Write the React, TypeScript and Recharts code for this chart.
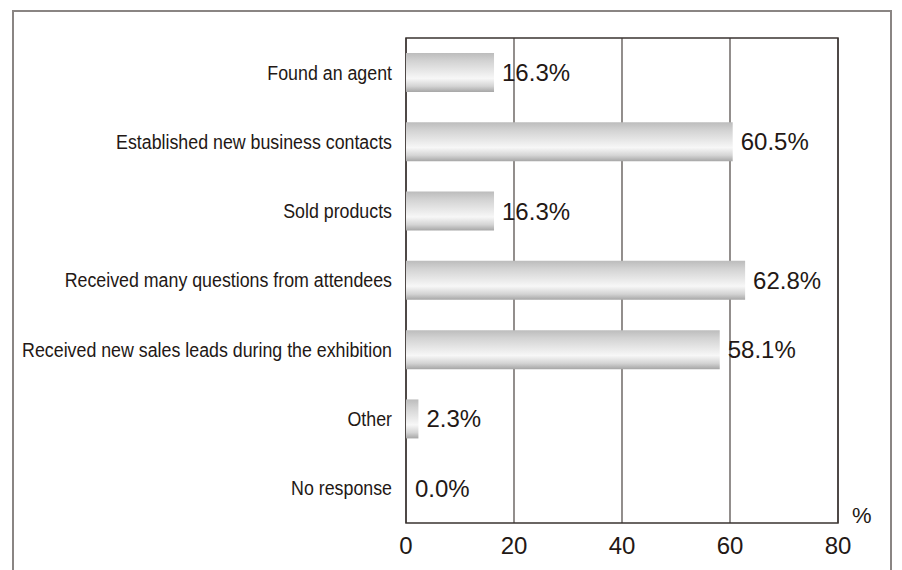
import { BarChart, Bar, XAxis, YAxis, CartesianGrid, ReferenceArea, LabelList, Cell } from 'recharts';

const categories = [
  'Found an agent',
  'Established new business contacts',
  'Sold products',
  'Received many questions from attendees',
  'Received new sales leads during the exhibition',
  'Other',
  'No response',
];
const shares = [16.3, 60.5, 16.3, 62.8, 58.1, 2.3, 0.0];
const xTicks = [0, 20, 40, 60, 80];

const data = categories.map((name, i) => ({ name, value: shares[i] }));

const ink = '#231815';
const font = "'Liberation Sans', Arial, sans-serif";

// the original uses a condensed gothic face, so squeeze the text horizontally
const CategoryTick = (props: any) => {
  const { x, y, payload } = props;
  return (
    <text
      transform={`translate(${x},${y}) scale(0.89,1)`}
      textAnchor="end"
      dominantBaseline="central"
      fontSize={20}
      fill={ink}
      fontFamily={font}
    >
      {payload.value}
    </text>
  );
};

export default function App() {
  return (
    <div style={{ position: 'absolute', left: 0, top: 0, width: 902, height: 570, background: '#fff', overflow: 'hidden', fontFamily: font }}>
      {/* outer frame, open at the bottom */}
      <div
        style={{
          position: 'absolute',
          left: 12,
          top: 10,
          width: 876,
          height: 580,
          border: '2px solid #8a8583',
        }}
      />
      <BarChart
        width={902}
        height={570}
        data={data}
        layout="vertical"
        margin={{ top: 38, right: 64, left: 0, bottom: 0 }}
      >
        <defs>
          <linearGradient id="barShade" x1="0" y1="0" x2="0" y2="1">
            <stop offset="0%" stopColor="#bcbcbc" />
            <stop offset="20%" stopColor="#d2d2d2" />
            <stop offset="65%" stopColor="#f7f7f7" />
            <stop offset="85%" stopColor="#d4d4d4" />
            <stop offset="100%" stopColor="#a6a6a6" />
          </linearGradient>
        </defs>
        <CartesianGrid horizontal={false} vertical stroke="#4a4340" strokeWidth={1.2} />
        <XAxis
          type="number"
          domain={[0, 80]}
          ticks={xTicks}
          height={47}
          axisLine={false}
          tickLine={false}
          tickMargin={8}
          tick={{ fontSize: 24, fill: ink, fontFamily: font }}
        />
        <YAxis
          type="category"
          dataKey="name"
          width={406}
          axisLine={false}
          tickLine={false}
          tickMargin={8}
          interval={0}
          tick={<CategoryTick />}
        />
        <ReferenceArea x1={0} x2={80} fill="none" stroke="#3a3330" strokeWidth={1.5} ifOverflow="visible" />
        <Bar dataKey="value" fill="url(#barShade)" barSize={39} minPointSize={1} isAnimationActive={false}>
          {data.map((d, i) => (
            <Cell key={i} fill={d.value === 0 ? 'transparent' : 'url(#barShade)'} />
          ))}
          <LabelList
            dataKey="value"
            position="right"
            offset={8}
            formatter={(v: any) => `${Number(v).toFixed(1)}%`}
            style={{ fontSize: 24, fill: ink, fontFamily: font }}
          />
        </Bar>
      </BarChart>
      <div style={{ position: 'absolute', left: 852, top: 503, fontSize: 22, color: ink, fontFamily: font }}>%</div>
    </div>
  );
}
